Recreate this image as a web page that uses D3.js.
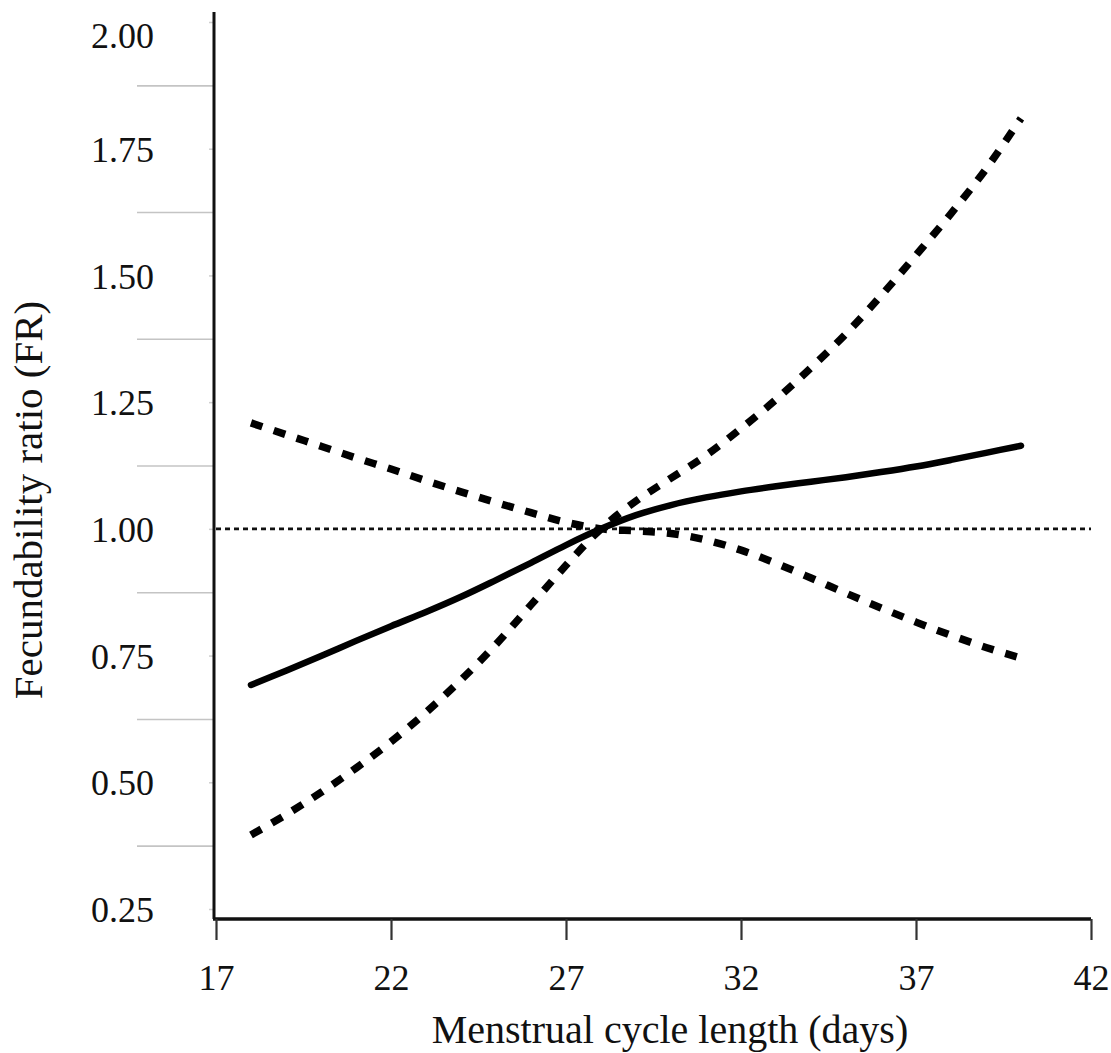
<!DOCTYPE html>
<html>
<head>
<meta charset="utf-8">
<script src="https://cdn.jsdelivr.net/npm/d3@7"></script>
<style>
  body { margin: 0; background: #fff; }
  text { font-family: "Liberation Serif", "Times New Roman", serif; fill: #111; }
</style>
</head>
<body>
<svg id="chart" width="1111" height="1053"></svg>
<script>
// cycle length (days)
var days = [18, 19, 20, 21, 22, 23, 24, 25, 26, 27, 28, 29, 30, 31, 32, 33, 34, 35, 36, 37, 38, 39, 40];

// fecundability ratio, estimate
var fr = [0.692, 0.72, 0.749, 0.779, 0.808, 0.836, 0.866, 0.899, 0.933, 0.968, 1.0, 1.027, 1.047, 1.062, 1.074, 1.084, 1.093, 1.102, 1.112, 1.123, 1.136, 1.15, 1.164];

// confidence bands (they cross at the reference length)
var bandRising = [0.396, 0.436, 0.48, 0.528, 0.58, 0.638, 0.702, 0.772, 0.85, 0.928, 1.0, 1.055, 1.10, 1.145, 1.198, 1.255, 1.318, 1.385, 1.46, 1.54, 1.622, 1.71, 1.81];
var bandFalling = [1.209, 1.186, 1.163, 1.14, 1.118, 1.095, 1.073, 1.052, 1.032, 1.013, 1.0, 0.996, 0.991, 0.978, 0.958, 0.932, 0.903, 0.873, 0.844, 0.816, 0.79, 0.766, 0.745];

var xTicks = [17, 22, 27, 32, 37, 42];
var yTicks = [0.25, 0.5, 0.75, 1.0, 1.25, 1.5, 1.75, 2.0];
var yMinor = [0.375, 0.625, 0.875, 1.125, 1.375, 1.625, 1.875];
var refValue = 1.0;

var svg = d3.select("#chart");

var x = d3.scaleLinear().domain([17, 42]).range([216, 1091]);
var y = d3.scaleLinear().domain([0.25, 2.0]).range([909, 22]);

var axisY = 919, axisX = 214;

// gray half-step lines left of the axis
svg.append("g")
    .attr("transform", "translate(" + (axisX - 1) + ",0)")
    .call(d3.axisLeft(y).tickValues(yMinor).tickSize(76).tickFormat(""))
    .call(g => g.select(".domain").remove())
    .call(g => g.selectAll(".tick line").attr("stroke", "#c4c4c4").attr("stroke-width", 1.6));

// y axis with small ticks and labels
var gy = svg.append("g")
    .attr("transform", "translate(" + axisX + ",0)")
    .call(d3.axisLeft(y).tickValues(yTicks).tickSize(5).tickPadding(55).tickFormat(d3.format(".2f")));
gy.select(".domain").remove();
gy.selectAll(".tick line").attr("stroke", "#cfcfcf").attr("stroke-width", 1.5);
gy.selectAll(".tick text")
    .style("font-family", "Liberation Serif")
    .style("font-size", "36px")
    .attr("fill", "#111")
    .attr("dy", d => d === 2.0 ? "0.72em" : "0.35em");

svg.append("line")
    .attr("x1", axisX).attr("x2", axisX)
    .attr("y1", 12).attr("y2", axisY)
    .attr("stroke", "#111").attr("stroke-width", 3);

// x axis
var gx = svg.append("g")
    .attr("transform", "translate(0," + axisY + ")")
    .call(d3.axisBottom(x).tickValues(xTicks).tickSize(21).tickSizeOuter(0).tickPadding(24));
gx.select(".domain").attr("stroke", "#111").attr("stroke-width", 3.5)
    .attr("d", "M" + (axisX - 1) + ",0H" + x(42));
gx.selectAll(".tick line").attr("stroke", "#333").attr("stroke-width", 2.2);
gx.selectAll(".tick text")
    .style("font-family", "Liberation Serif")
    .style("font-size", "36px")
    .attr("fill", "#111");

// reference line at FR = 1
svg.append("line")
    .attr("x1", x(17)).attr("x2", x(42))
    .attr("y1", y(refValue)).attr("y2", y(refValue))
    .attr("stroke", "#111").attr("stroke-width", 2.6)
    .attr("stroke-dasharray", "5,4");

var line = d3.line()
    .x(d => x(d[0]))
    .y(d => y(d[1]))
    .curve(d3.curveCatmullRom.alpha(0.5));

function pairs(vals) {
    return days.map((d, i) => [d, vals[i]]);
}

[bandRising, bandFalling].forEach(function (vals) {
    svg.append("path")
        .datum(pairs(vals))
        .attr("fill", "none")
        .attr("stroke", "#000")
        .attr("stroke-width", 7.5)
        .attr("stroke-dasharray", "12,12")
        .attr("d", line);
});

svg.append("path")
    .datum(pairs(fr))
    .attr("fill", "none")
    .attr("stroke", "#000")
    .attr("stroke-width", 6.5)
    .attr("stroke-linecap", "round")
    .attr("d", line);

// axis titles
svg.append("text")
    .attr("x", 670).attr("y", 1043)
    .attr("text-anchor", "middle")
    .style("font-size", "40px")
    .text("Menstrual cycle length (days)");

svg.append("text")
    .attr("transform", "translate(42,500) rotate(-90)")
    .attr("text-anchor", "middle")
    .style("font-size", "41px")
    .text("Fecundability ratio (FR)");
</script>
</body>
</html>
